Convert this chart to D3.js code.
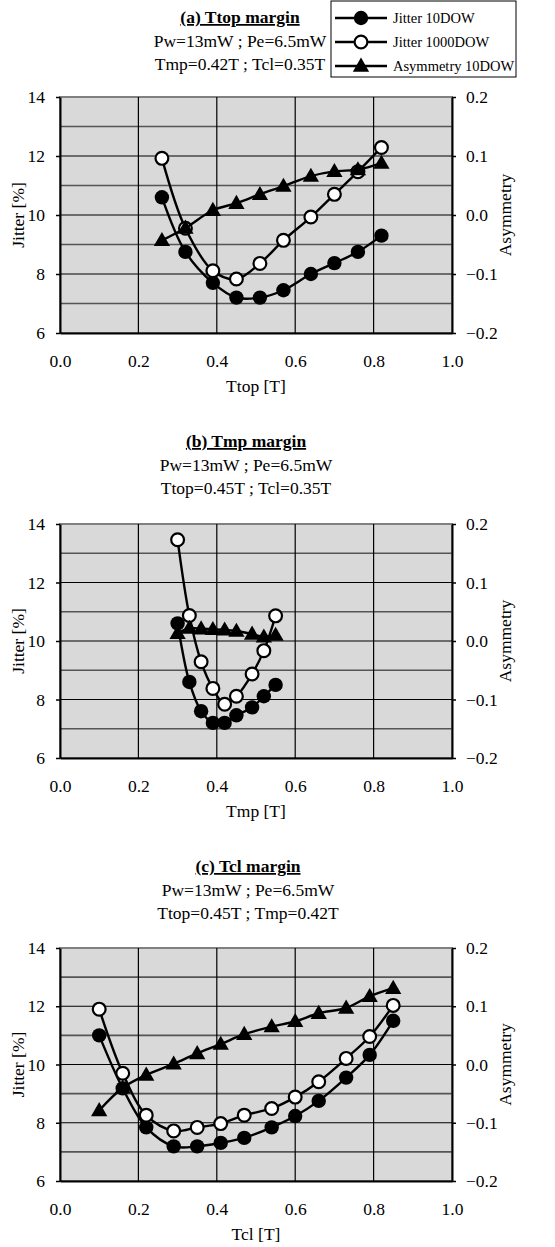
<!DOCTYPE html>
<html lang="en">
<head>
<meta charset="utf-8">
<title>Jitter / Asymmetry margins</title>
<script src="https://d3js.org/d3.v7.min.js"></script>
<style>
    body { margin: 0; background: #fff; }
    text { font-family: "Liberation Serif", "Times New Roman", serif; fill: #000; }
</style>
</head>
<body>
<div id="chart"></div>
<script>
// ---- data ----
// (a) Ttop margin
const ttopX = [0.26, 0.32, 0.39, 0.45, 0.51, 0.57, 0.64, 0.70, 0.76, 0.82];
const ttopJitter10 = [10.6, 8.75, 7.7, 7.2, 7.2, 7.45, 8.0, 8.37, 8.75, 9.3];
const ttopJitter1000 = [11.92, 9.55, 8.11, 7.83, 8.36, 9.14, 9.93, 10.7, 11.47, 12.29];
const ttopAsym = [-0.043, -0.022, 0.008, 0.02, 0.035, 0.049, 0.066, 0.074, 0.077, 0.088];

// (b) Tmp margin
const tmpX = [0.30, 0.33, 0.36, 0.39, 0.42, 0.45, 0.49, 0.52, 0.55];
const tmpJitter10 = [10.6, 8.6, 7.6, 7.2, 7.2, 7.46, 7.73, 8.11, 8.5];
const tmpJitter1000 = [13.46, 10.87, 9.29, 8.38, 7.84, 8.11, 8.87, 9.67, 10.86];
const tmpAsym = [0.013, 0.022, 0.021, 0.02, 0.019, 0.017, 0.012, 0.007, 0.01];

// (c) Tcl margin
const tclX = [0.10, 0.16, 0.22, 0.29, 0.35, 0.41, 0.47, 0.54, 0.60, 0.66, 0.73, 0.79, 0.85];
const tclJitter10 = [11.0, 9.18, 7.84, 7.19, 7.19, 7.31, 7.48, 7.84, 8.23, 8.75, 9.55, 10.33, 11.5];
const tclJitter1000 = [11.9, 9.7, 8.26, 7.72, 7.84, 7.97, 8.26, 8.49, 8.88, 9.41, 10.21, 10.96, 12.03];
const tclAsym = [-0.079, -0.04, -0.018, 0.001, 0.019, 0.035, 0.052, 0.065, 0.074, 0.088, 0.097, 0.117, 0.131];

// ticks
const xTicks = [0, 0.2, 0.4, 0.6, 0.8, 1.0];
const jitterTicks = [6, 8, 10, 12, 14];
const jitterMinor = [7, 9, 11, 13];
const asymTicks = [-0.2, -0.1, 0.0, 0.1, 0.2];

const seriesNames = ["Jitter 10DOW", "Jitter 1000DOW", "Asymmetry 10DOW"];

const panels = [
    { title: "(a) Ttop margin", sub1: "Pw=13mW ; Pe=6.5mW", sub2: "Tmp=0.42T ; Tcl=0.35T",
      xLabel: "Ttop [T]", x: ttopX, j10: ttopJitter10, j1000: ttopJitter1000, asym: ttopAsym,
      top: 97, bottom: 333, titleX: 240, titleY: 23 },
    { title: "(b) Tmp margin", sub1: "Pw=13mW ; Pe=6.5mW", sub2: "Ttop=0.45T ; Tcl=0.35T",
      xLabel: "Tmp [T]", x: tmpX, j10: tmpJitter10, j1000: tmpJitter1000, asym: tmpAsym,
      top: 524, bottom: 758, titleX: 246, titleY: 447 },
    { title: "(c) Tcl margin", sub1: "Pw=13mW ; Pe=6.5mW", sub2: "Ttop=0.45T ; Tmp=0.42T",
      xLabel: "Tcl [T]", x: tclX, j10: tclJitter10, j1000: tclJitter1000, asym: tclAsym,
      top: 948, bottom: 1181, titleX: 248, titleY: 872 }
];

const W = 555, H = 1247;
const left = 60, right = 452;

const svg = d3.select("#chart").append("svg")
    .attr("width", W)
    .attr("height", H);

const triangle = d3.symbol().type(d3.symbolTriangle).size(115);

function drawMarkers(g, pts, kind) {
    if (kind === "tri") {
        g.selectAll("path.m").data(pts).enter().append("path")
            .attr("class", "m")
            .attr("d", triangle)
            .attr("transform", d => `translate(${d[0]},${d[1] + 1})`)
            .attr("fill", "#000");
    } else {
        g.selectAll("circle").data(pts).enter().append("circle")
            .attr("cx", d => d[0])
            .attr("cy", d => d[1])
            .attr("r", kind === "filled" ? 7.2 : 6.4)
            .attr("fill", kind === "filled" ? "#000" : "#fff")
            .attr("stroke", "#000")
            .attr("stroke-width", kind === "filled" ? 0 : 2.2);
    }
}

panels.forEach(function (p) {
    const x = d3.scaleLinear().domain([0, 1]).range([left, right]);
    const yL = d3.scaleLinear().domain([6, 14]).range([p.bottom, p.top]);
    const yR = d3.scaleLinear().domain([-0.2, 0.2]).range([p.bottom, p.top]);

    const g = svg.append("g");

    // titles
    g.append("text")
        .attr("x", p.titleX).attr("y", p.titleY)
        .attr("text-anchor", "middle")
        .style("font-size", "17.5px")
        .style("font-weight", "bold")
        .style("text-decoration", "underline")
        .text(p.title);
    g.append("text")
        .attr("x", p.titleX).attr("y", p.titleY + 24)
        .attr("text-anchor", "middle")
        .style("font-size", "17.5px")
        .text(p.sub1);
    g.append("text")
        .attr("x", p.titleX).attr("y", p.titleY + 47)
        .attr("text-anchor", "middle")
        .style("font-size", "17.5px")
        .text(p.sub2);

    // plot area
    g.append("rect")
        .attr("x", left).attr("y", p.top)
        .attr("width", right - left).attr("height", p.bottom - p.top)
        .attr("fill", "#d9d9d9")
        .attr("stroke", "#808080")
        .attr("stroke-width", 2);

    // grid
    g.selectAll("line.minor").data(jitterMinor).enter().append("line")
        .attr("x1", left).attr("x2", right)
        .attr("y1", d => yL(d)).attr("y2", d => yL(d))
        .attr("stroke", "#555").attr("stroke-width", 1.6);
    g.selectAll("line.major").data(jitterTicks.slice(1, -1)).enter().append("line")
        .attr("x1", left).attr("x2", right)
        .attr("y1", d => yL(d)).attr("y2", d => yL(d))
        .attr("stroke", "#000").attr("stroke-width", 1.2);
    g.selectAll("line.vert").data(xTicks.slice(1, -1)).enter().append("line")
        .attr("x1", d => x(d)).attr("x2", d => x(d))
        .attr("y1", p.top).attr("y2", p.bottom)
        .attr("stroke", "#000").attr("stroke-width", 1.2);

    // axes
    const ax = g.append("g")
        .attr("transform", `translate(0,${p.bottom})`)
        .call(d3.axisBottom(x).tickValues(xTicks).tickFormat(d3.format(".1f"))
            .tickSize(0).tickPadding(22));
    const ayL = g.append("g")
        .attr("transform", `translate(${left},0)`)
        .call(d3.axisLeft(yL).tickValues(jitterTicks).tickFormat(d3.format("d"))
            .tickSizeInner(4).tickSizeOuter(0).tickPadding(11));
    const ayR = g.append("g")
        .attr("transform", `translate(${right},0)`)
        .call(d3.axisRight(yR).tickValues(asymTicks).tickFormat(d3.format(".1f"))
            .tickSizeInner(4).tickSizeOuter(0).tickPadding(10));
    [ax, ayL, ayR].forEach(a => {
        a.selectAll("text").style("font-size", "17.5px").style("font-family", "Liberation Serif");
        a.select(".domain").attr("stroke", "#000").attr("stroke-width", 2);
        a.selectAll(".tick line").attr("stroke", "#000").attr("stroke-width", 1.5);
    });

    // axis titles
    g.append("text")
        .attr("x", (left + right) / 2).attr("y", p.bottom + 59)
        .attr("text-anchor", "middle")
        .style("font-size", "17.5px")
        .text(p.xLabel);
    g.append("text")
        .attr("transform", `translate(24,${(p.top + p.bottom) / 2}) rotate(-90)`)
        .attr("text-anchor", "middle")
        .style("font-size", "17.5px")
        .text("Jitter [%]");
    g.append("text")
        .attr("transform", `translate(511,${(p.top + p.bottom) / 2}) rotate(-90)`)
        .attr("text-anchor", "middle")
        .style("font-size", "17.5px")
        .text("Asymmetry");

    // series
    const line = d3.line().curve(d3.curveCatmullRom.alpha(0.5));
    const s1 = p.x.map((v, i) => [x(v), yL(p.j10[i])]);
    const s2 = p.x.map((v, i) => [x(v), yL(p.j1000[i])]);
    const s3 = p.x.map((v, i) => [x(v), yR(p.asym[i])]);
    [[s1, "filled"], [s2, "open"], [s3, "tri"]].forEach(function (s) {
        const sg = g.append("g");
        sg.append("path")
            .attr("d", line(s[0]))
            .attr("fill", "none")
            .attr("stroke", "#000")
            .attr("stroke-width", 2.4);
        drawMarkers(sg, s[0], s[1]);
    });
});

// legend (top panel only)
const lg = svg.append("g").attr("transform", "translate(331,1)");
lg.append("rect")
    .attr("width", 185).attr("height", 76)
    .attr("fill", "#fff").attr("stroke", "#000").attr("stroke-width", 1);
const kinds = ["filled", "open", "tri"];
seriesNames.forEach(function (name, i) {
    const cy = 17 + i * 24;
    const row = lg.append("g");
    row.append("line")
        .attr("x1", 4).attr("x2", 56)
        .attr("y1", cy).attr("y2", cy)
        .attr("stroke", "#000").attr("stroke-width", 2.4);
    drawMarkers(row, [[30, cy]], kinds[i]);
    row.append("text")
        .attr("x", 62).attr("y", cy + 5)
        .style("font-size", "14.5px")
        .text(name);
});
</script>
</body>
</html>
